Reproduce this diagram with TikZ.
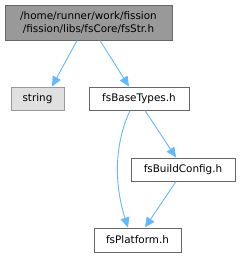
\documentclass[tikz,border=0pt]{standalone}
\usepackage{fontspec}
\setmainfont{DejaVu Sans}
\usetikzlibrary{arrows.meta}
\definecolor{edgeblue}{HTML}{63B8FF}
\definecolor{topfill}{HTML}{999999}
\definecolor{topdraw}{HTML}{666666}
\definecolor{extfill}{HTML}{E0E0E0}
\definecolor{extdraw}{HTML}{999999}
\definecolor{normdraw}{HTML}{666666}
\begin{document}
\begin{tikzpicture}[x=1pt,y=-1pt,
  box/.style={draw=normdraw,fill=white,line width=1pt,inner sep=0pt,font=\fontsize{10.4}{12.5}\selectfont},
  edge/.style={draw=edgeblue,line width=0.9pt,-{Triangle[length=10pt,width=9pt]}}]
\useasboundingbox (0,0) rectangle (241,257);
\node[box,fill=topfill,draw=topdraw,minimum width=167pt,minimum height=35pt,align=center] (top) at (88.5,22.5) {/home/runner/work/fission\\/fission/libs/fsCore/fsStr.h};
\node[box,fill=extfill,draw=extdraw,minimum width=53pt,minimum height=23pt] (str) at (37.5,98.5) {string};
\node[box,minimum width=100pt,minimum height=23pt] (base) at (139,98.5) {fsBaseTypes.h};
\node[box,minimum width=104pt,minimum height=23pt] (build) at (183,169.5) {fsBuildConfig.h};
\node[box,minimum width=87pt,minimum height=24pt] (plat) at (137.5,240) {fsPlatform.h};
\draw[edge] (top.south -| 77,0) -- (str.north -| 52,0);
\draw[edge] (top.south -| 100,0) -- (base.north -| 129,0);
\draw[edge] (base.south -| 145,0) -- (build.north -| 176,0);
\draw[edge] (build.south -| 176,0) -- (plat.north -| 145,0);
\draw[edge] (base.south -| 130,0) .. controls (112,150) and (116,190) .. (plat.north -| 128,0);
\end{tikzpicture}
\end{document}
